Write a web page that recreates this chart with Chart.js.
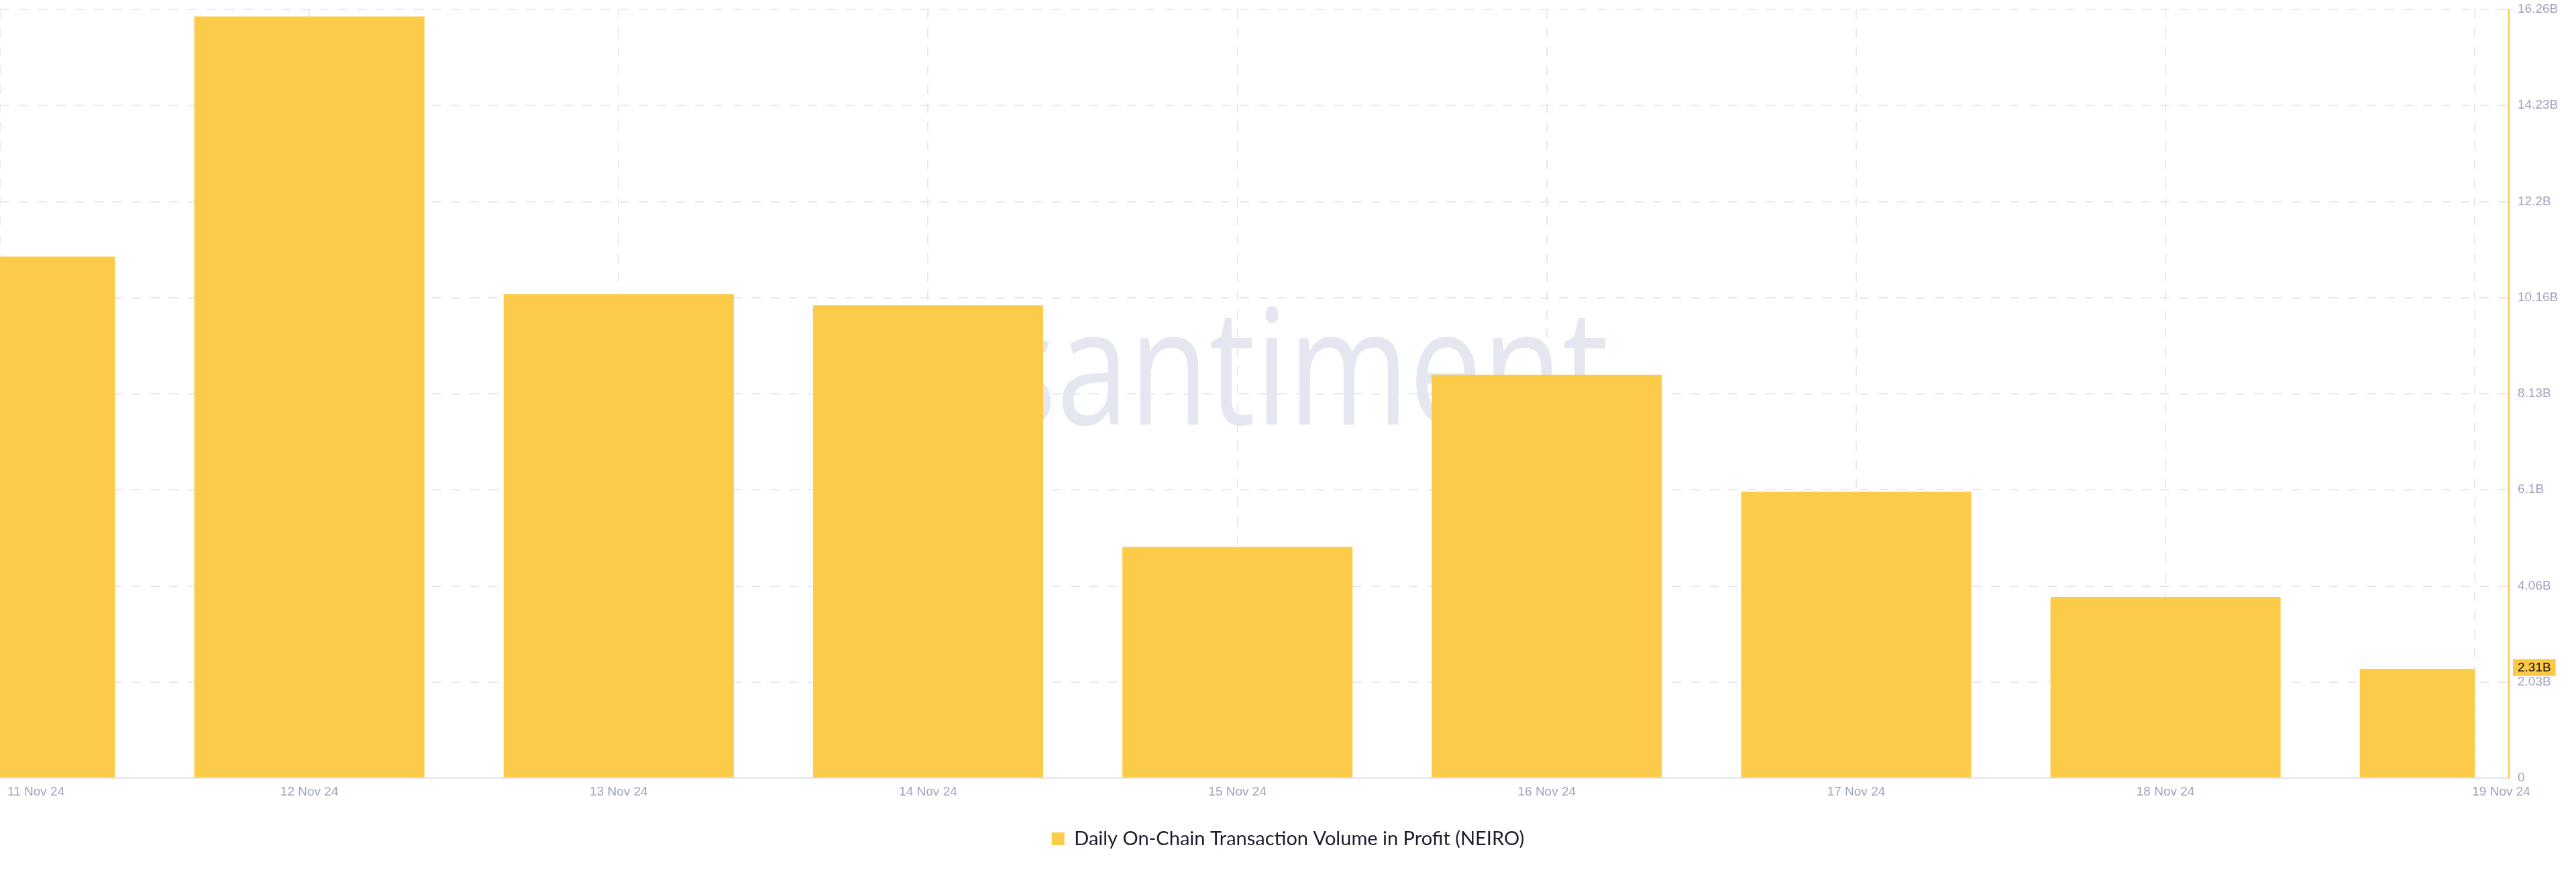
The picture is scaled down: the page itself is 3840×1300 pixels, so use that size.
<!DOCTYPE html>
<html><head><meta charset="utf-8">
<script src="https://cdn.jsdelivr.net/npm/chart.js@4/dist/chart.umd.min.js"></script>
<style>html,body{margin:0;padding:0;background:#fff;overflow:hidden}</style>
</head><body>
<canvas id="c" width="3840" height="1300"></canvas>
<script>
const categories = ['11 Nov 24','12 Nov 24','13 Nov 24','14 Nov 24','15 Nov 24','16 Nov 24','17 Nov 24','18 Nov 24','19 Nov 24'];
const seriesName = 'Daily On-Chain Transaction Volume in Profit (NEIRO)';
const volumeInProfit = [11.03e9, 16.11e9, 10.24e9, 10.0e9, 4.89e9, 8.53e9, 6.06e9, 3.83e9, 2.31e9];
const yTickValues = [0, 2.0325e9, 4.065e9, 6.0975e9, 8.13e9, 10.1625e9, 12.195e9, 14.2275e9, 16.26e9];
const yTickLabels = ['0','2.03B','4.06B','6.1B','8.13B','10.16B','12.2B','14.23B','16.26B'];
const currentValueLabel = '2.31B';
const watermarkText = 'santiment';

const BAR = '#fdcb4a';
const AXIS_TEXT = '#9ea3bf';
const GRID = '#e8e9ee';

const watermark = {
  id: 'watermark',
  beforeDatasetsDraw(chart) {
    const {ctx, chartArea: a} = chart;
    ctx.save();
    ctx.fillStyle = '#e4e7ef';
    ctx.font = '400 240px "Open Sans"';
    ctx.textBaseline = 'alphabetic';
    ctx.textAlign = 'left';
    const sx = 0.81;
    const firstW = ctx.measureText(watermarkText[0]).width * sx;
    const left = a.left + a.width * 0.4211 - firstW;
    const base = a.top + a.height * 0.540;
    ctx.translate(left, base);
    ctx.scale(sx, 1);
    ctx.fillText(watermarkText, 0, 0);
    ctx.restore();
  }
};

const clipLast = {
  id: 'clipLast',
  beforeDatasetsDraw(chart) {
    const {ctx, chartArea: a, scales: {x}} = chart;
    const edge = x.getPixelForValue(categories.length - 1);
    ctx.save();
    ctx.beginPath();
    ctx.rect(a.left, a.top, edge - a.left, a.bottom - a.top);
    ctx.clip();
  },
  afterDatasetsDraw(chart) { chart.ctx.restore(); }
};

const xLabels = {
  id: 'xLabels',
  afterDraw(chart) {
    const {ctx, chartArea: a, scales: {x}} = chart;
    ctx.save();
    ctx.font = '19px "Liberation Sans"';
    ctx.fillStyle = AXIS_TEXT;
    ctx.textBaseline = 'middle';
    ctx.textAlign = 'left';
    const last = categories.length - 1;
    categories.forEach((lab, i) => {
      const px = x.getPixelForValue(i);
      const w = ctx.measureText(lab).width;
      let left = px - w / 2;
      if (i === 0) left = Math.max(left, a.left + 11);
      if (i === last) left = px - 4;
      ctx.fillText(lab, left, a.bottom + 21);
    });
    ctx.restore();
  }
};

const badge = {
  id: 'badge',
  afterDraw(chart) {
    const {ctx, scales: {y}} = chart;
    const v = volumeInProfit[volumeInProfit.length - 1];
    const py = y.getPixelForValue(v) - 2;
    ctx.save();
    ctx.font = '19px "Liberation Sans"';
    const w = ctx.measureText(currentValueLabel).width;
    const left = y.left + 6;
    ctx.fillStyle = '#fdc945';
    ctx.fillRect(left, py - 12.5, w + 14, 25);
    ctx.fillStyle = '#111';
    ctx.textBaseline = 'middle';
    ctx.textAlign = 'left';
    ctx.fillText(currentValueLabel, left + 7, py + 1);
    ctx.restore();
  }
};

new Chart(document.getElementById('c'), {
  type: 'bar',
  data: {
    datasets: [{
      label: seriesName,
      data: volumeInProfit.map((v, i) => ({x: i, y: v})),
      backgroundColor: BAR,
      borderWidth: 0,
      categoryPercentage: 1,
      barPercentage: 0.744
    }]
  },
  options: {
    responsive: false,
    animation: false,
    devicePixelRatio: 1,
    layout: {padding: {top: 14, left: 0, right: 0, bottom: 25}},
    scales: {
      x: {
        type: 'linear',
        offset: false,
        min: 0,
        max: 8.11,
        afterBuildTicks(scale) { scale.ticks = categories.map((_, i) => ({value: i})); },
        afterFit(scale) { scale.height = 66; scale.paddingLeft = 0; scale.paddingRight = 0; },
        ticks: {display: false},
        grid: {color: GRID, lineWidth: 2, drawTicks: false, offset: false},
        border: {display: true, color: '#e3e4e8', width: 2, dash: [14, 14]}
      },
      y: {
        position: 'right',
        min: 0,
        max: 16.26e9,
        afterBuildTicks(scale) { scale.ticks = yTickValues.map(v => ({value: v})); },
        afterFit(scale) { scale.width = 100; scale.paddingTop = 0; scale.paddingBottom = 0; },
        ticks: {
          padding: 13,
          color: AXIS_TEXT,
          font: {family: '"Liberation Sans"', size: 19},
          callback: (val, idx) => yTickLabels[idx]
        },
        grid: {color: GRID, lineWidth: 2, drawTicks: false},
        border: {display: true, color: '#f4c842', width: 2, dash: [14, 14]}
      }
    },
    plugins: {
      legend: {
        position: 'bottom',
        labels: {
          boxWidth: 19,
          boxHeight: 19,
          padding: 10,
          color: '#1c1c2c',
          font: {family: 'Lato', size: 29}
        }
      },
      tooltip: {enabled: false}
    }
  },
  plugins: [watermark, clipLast, xLabels, badge]
});
</script>
</body></html>
